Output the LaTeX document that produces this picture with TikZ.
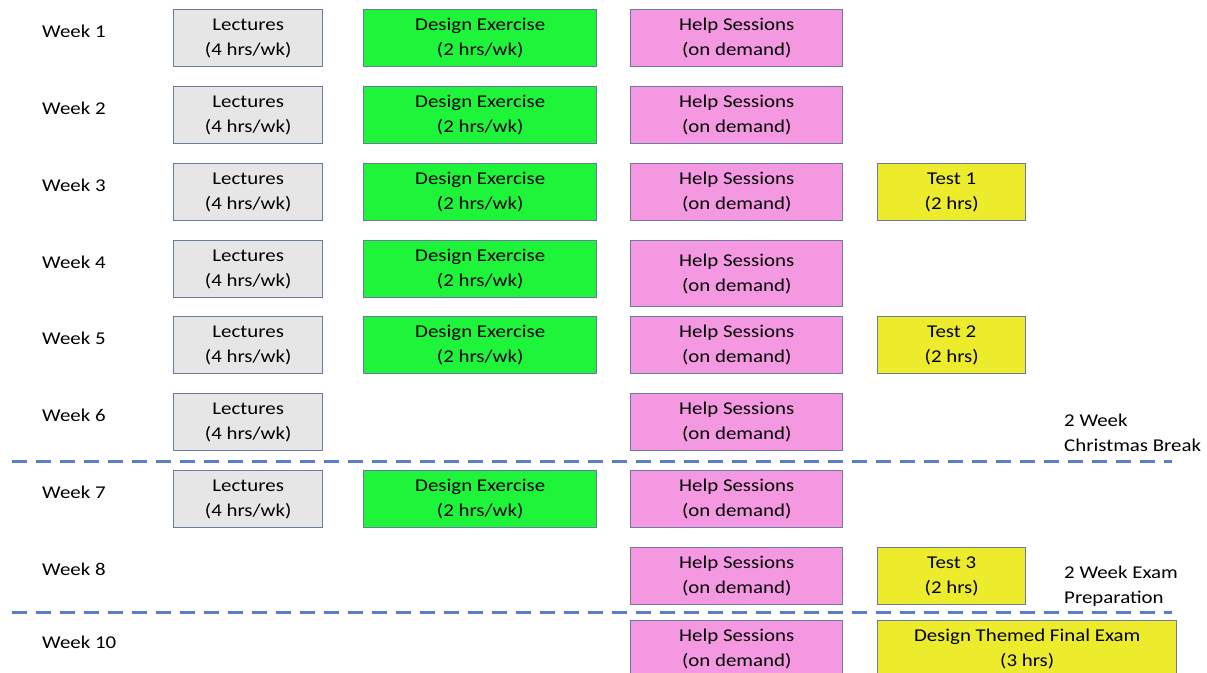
\documentclass[tikz,border=0pt]{standalone}
\usepackage{fontspec}
\setmainfont[FakeStretch=1.16]{Carlito}

\definecolor{boxline}{HTML}{6A7AA0}
\definecolor{lectgray}{HTML}{E6E6E6}
\definecolor{dexgreen}{HTML}{1EF53A}
\definecolor{helppink}{HTML}{F598E2}
\definecolor{testyellow}{HTML}{ECEC2C}
\definecolor{brkblue}{HTML}{5B7EC6}

\begin{document}
\begin{tikzpicture}[x=1pt, y=-1pt,
  box/.style={draw=boxline, line width=1.4pt, anchor=north west, align=center,
    inner sep=0pt, minimum height=57pt, font=\fontsize{18}{25}\selectfont},
  lect/.style={box, fill=lectgray, minimum width=149pt},
  dex/.style={box, fill=dexgreen, minimum width=233pt},
  help/.style={box, fill=helppink, minimum width=212pt},
  test/.style={box, fill=testyellow, minimum width=148pt},
  week/.style={anchor=west, inner sep=0pt, font=\fontsize{18}{25}\selectfont},
  note/.style={anchor=north west, inner sep=0pt, align=left, font=\fontsize{18}{25}\selectfont},
  brk/.style={draw=brkblue, line width=3pt, dash pattern=on 15pt off 9pt}]

  \useasboundingbox (0,0) rectangle (1207,672);
  \clip (0,0) rectangle (1207,672);

  % Week labels:
  \node[week] (w1) at (42,31) {Week 1};
  \node[week] (w2) at (42,108) {Week 2};
  \node[week] (w3) at (42,185) {Week 3};
  \node[week] (w4) at (42,262) {Week 4};
  \node[week] (w5) at (42,338) {Week 5};
  \node[week] (w6) at (42,415) {Week 6};
  \node[week] (w7) at (42,492) {Week 7};
  \node[week] (w8) at (42,569) {Week 8};
  \node[week] (w10) at (42,642) {Week 10};

  % Lectures:
  \node[lect] (lec1) at (173,9) {Lectures\\(4 hrs/wk)};
  \node[lect] (lec2) at (173,86) {Lectures\\(4 hrs/wk)};
  \node[lect] (lec3) at (173,163) {Lectures\\(4 hrs/wk)};
  \node[lect] (lec4) at (173,240) {Lectures\\(4 hrs/wk)};
  \node[lect] (lec5) at (173,316) {Lectures\\(4 hrs/wk)};
  \node[lect] (lec6) at (173,393) {Lectures\\(4 hrs/wk)};
  \node[lect] (lec7) at (173,470) {Lectures\\(4 hrs/wk)};

  % Design exercises:
  \node[dex] (dex1) at (363,9) {Design Exercise\\(2 hrs/wk)};
  \node[dex] (dex2) at (363,86) {Design Exercise\\(2 hrs/wk)};
  \node[dex] (dex3) at (363,163) {Design Exercise\\(2 hrs/wk)};
  \node[dex] (dex4) at (363,240) {Design Exercise\\(2 hrs/wk)};
  \node[dex] (dex5) at (363,316) {Design Exercise\\(2 hrs/wk)};
  \node[dex] (dex7) at (363,470) {Design Exercise\\(2 hrs/wk)};

  % Help sessions:
  \node[help] (help1) at (630,9) {Help Sessions\\(on demand)};
  \node[help] (help2) at (630,86) {Help Sessions\\(on demand)};
  \node[help] (help3) at (630,163) {Help Sessions\\(on demand)};
  \node[help, minimum height=66pt] (help4) at (630,240) {Help Sessions\\(on demand)};
  \node[help] (help5) at (630,316) {Help Sessions\\(on demand)};
  \node[help] (help6) at (630,393) {Help Sessions\\(on demand)};
  \node[help] (help7) at (630,470) {Help Sessions\\(on demand)};
  \node[help] (help8) at (630,547) {Help Sessions\\(on demand)};
  \node[help] (help10) at (630,620) {Help Sessions\\(on demand)};

  % Tests:
  \node[test] (test1) at (877,163) {Test 1\\(2 hrs)};
  \node[test] (test2) at (877,316) {Test 2\\(2 hrs)};
  \node[test] (test3) at (877,547) {Test 3\\(2 hrs)};
  \node[test, minimum width=299pt] (final) at (877,620) {Design Themed Final Exam\\(3 hrs)};

  % Breaks:
  \node[note] (xmas) at (1064,414) {2 Week\\Christmas Break};
  \node[note] (prep) at (1064,566) {2 Week Exam\\Preparation};
  \coordinate (brk1l) at (12,461);
  \coordinate (brk1r) at (1172,461);
  \coordinate (brk2l) at (12,612);
  \coordinate (brk2r) at (1172,612);
  \draw[brk] (brk1l) -- (brk1r);
  \draw[brk] (brk2l) -- (brk2r);

\end{tikzpicture}
\end{document}
